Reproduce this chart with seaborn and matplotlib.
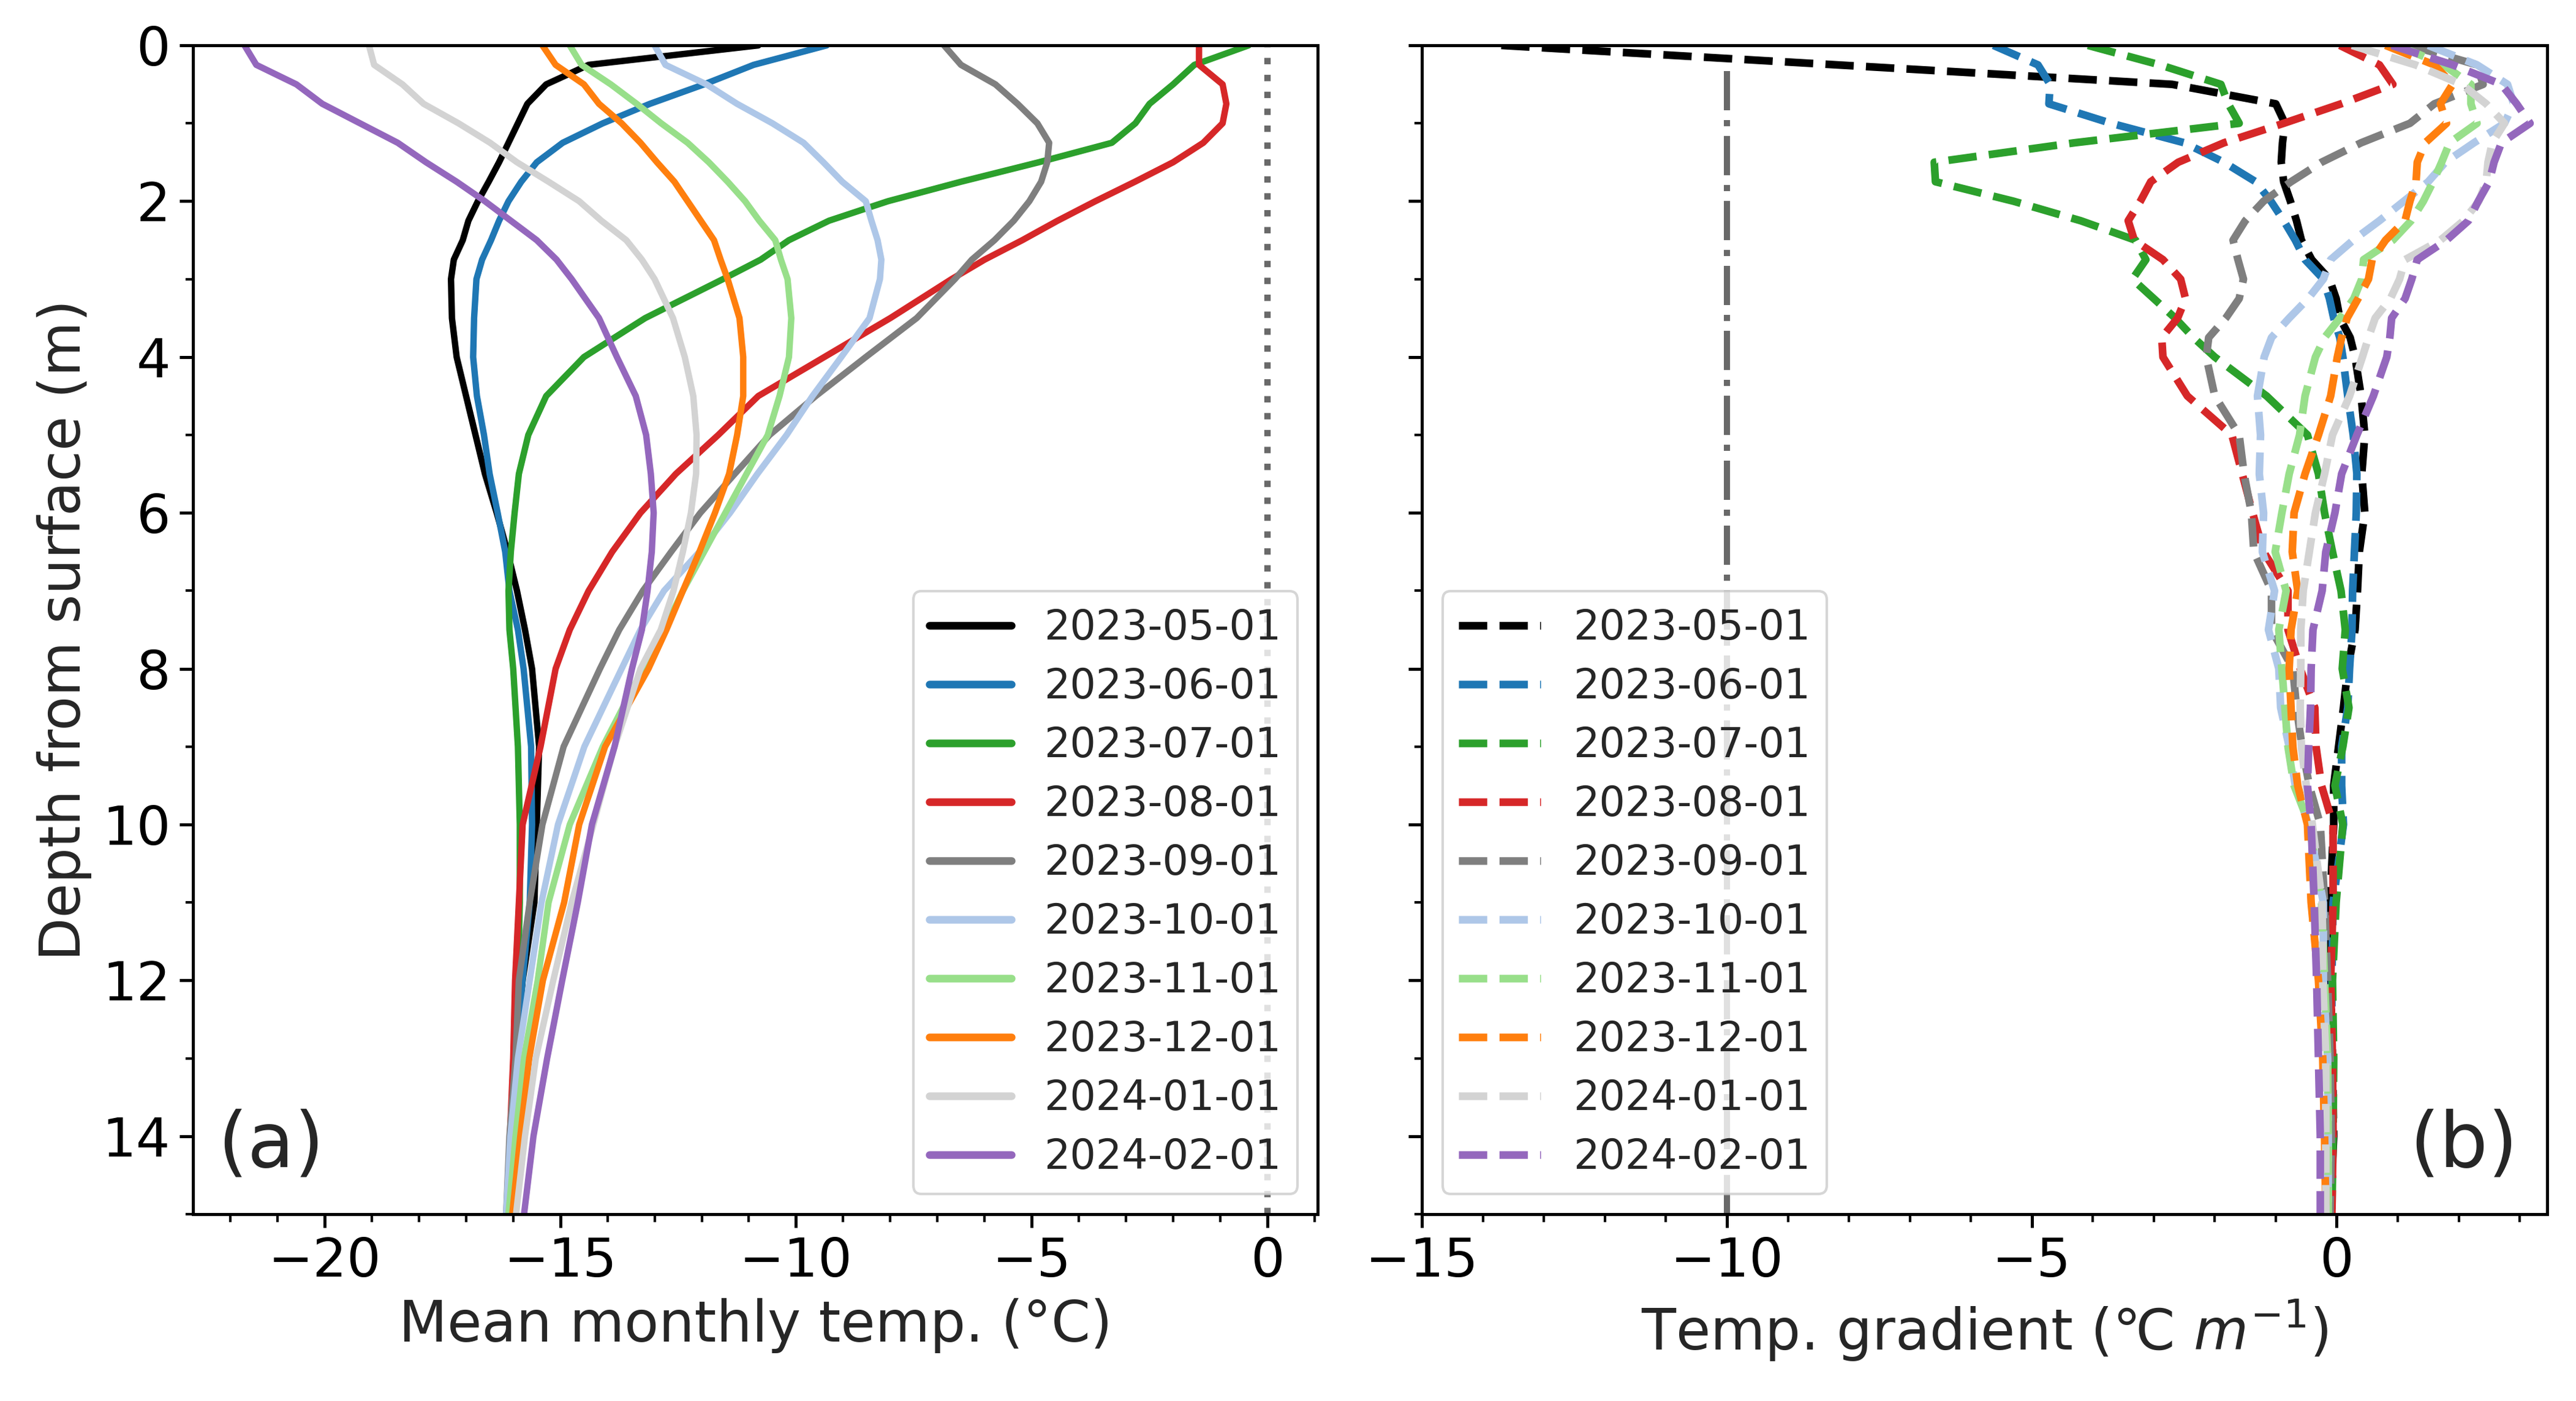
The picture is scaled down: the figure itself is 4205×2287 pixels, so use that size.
import pandas as pd
import matplotlib
matplotlib.use("Agg")
import matplotlib.pyplot as plt
import seaborn as sns
from matplotlib.ticker import MultipleLocator


# dates (one profile per month)
dates = ["2023-05-01", "2023-06-01", "2023-07-01", "2023-08-01", "2023-09-01",
         "2023-10-01", "2023-11-01", "2023-12-01", "2024-01-01", "2024-02-01"]

colors = ["black", "#1f77b4", "#2ca02c", "#d62728", "#7f7f7f",
          "#aec7e8", "#98df8a", "#ff7f0e", "#d3d3d3", "#9467bd"]

# depth grid for panel (a)
depth_a = [0, 0.25, 0.5, 0.75, 1, 1.25, 1.5, 1.75, 2, 2.25, 2.5, 2.75, 3,
           3.5, 4, 4.5, 5, 5.5, 6, 6.5, 7, 7.5, 8,
           9, 10, 11, 12, 13, 14, 15]

# mean monthly temperature (deg C)
temp_0523 = [-10.8, -14.4, -15.3, -15.7, -15.9, -16.1, -16.3, -16.52, -16.75, -16.95, -17.07, -17.26, -17.32,
             -17.3, -17.2, -17.0, -16.8, -16.6, -16.35, -16.12, -15.92, -15.75, -15.6,
             -15.45, -15.5, -15.55, -15.8, -15.95, -16.05, -16.1]
temp_0623 = [-9.35, -10.9, -11.95, -13.1, -14.1, -14.95, -15.5, -15.83, -16.1, -16.3, -16.47, -16.66, -16.78,
             -16.83, -16.85, -16.77, -16.62, -16.5, -16.33, -16.17, -16.08, -15.9, -15.78,
             -15.62, -15.6, -15.65, -15.8, -15.95, -16.0, -16.05]
temp_0723 = [-0.4, -1.55, -2.0, -2.5, -2.8, -3.3, -4.85, -6.5, -8.05, -9.3, -10.15, -10.75, -11.55,
             -13.2, -14.5, -15.3, -15.68, -15.88, -15.97, -16.05, -16.1, -16.08, -16.0,
             -15.9, -15.86, -15.86, -15.9, -15.95, -16.0, -16.05]
temp_0823 = [-1.45, -1.45, -0.95, -0.87, -0.95, -1.36, -2.0, -2.81, -3.65, -4.45, -5.2, -6.0, -6.7,
             -8.0, -9.4, -10.8, -11.65, -12.55, -13.3, -13.9, -14.4, -14.8, -15.1,
             -15.42, -15.8, -15.88, -15.96, -16.0, -16.07, -16.1]
temp_0923 = [-6.86, -6.5, -5.77, -5.3, -4.88, -4.63, -4.67, -4.8, -5.05, -5.38, -5.79, -6.27, -6.63,
             -7.44, -8.52, -9.58, -10.56, -11.3, -12.03, -12.65, -13.25, -13.75, -14.16,
             -14.93, -15.38, -15.65, -15.88, -15.95, -16.08, -16.15]
temp_1023 = [-13.0, -12.77, -11.9, -11.25, -10.5, -9.84, -9.42, -9.02, -8.52, -8.4, -8.27, -8.19, -8.22,
             -8.44, -9.04, -9.65, -10.2, -10.82, -11.4, -12.05, -12.8, -13.3, -13.7,
             -14.49, -15.05, -15.4, -15.65, -15.9, -16.06, -16.15]
temp_1123 = [-14.8, -14.55, -13.93, -13.38, -12.86, -12.3, -11.85, -11.45, -11.08, -10.78, -10.44, -10.32, -10.18,
             -10.1, -10.15, -10.35, -10.6, -11.05, -11.5, -11.95, -12.4, -12.8, -13.25,
             -14.1, -14.8, -15.25, -15.48, -15.77, -15.95, -16.1]
temp_1223 = [-15.38, -15.1, -14.5, -14.18, -13.7, -13.3, -12.95, -12.58, -12.3, -12.02, -11.74, -11.6, -11.45,
             -11.2, -11.12, -11.12, -11.25, -11.42, -11.72, -12.05, -12.4, -12.75, -13.13,
             -14.05, -14.6, -14.92, -15.37, -15.66, -15.85, -16.02]
temp_0124 = [-19.06, -18.95, -18.35, -17.9, -17.16, -16.49, -15.92, -15.25, -14.6, -14.13, -13.6, -13.27, -13.0,
             -12.61, -12.36, -12.18, -12.11, -12.12, -12.23, -12.4, -12.6, -12.87, -13.3,
             -13.85, -14.3, -14.76, -15.15, -15.52, -15.75, -15.94]
temp_0224 = [-21.7, -21.45, -20.6, -20.05, -19.25, -18.45, -17.85, -17.2, -16.6, -16.05, -15.5, -15.08, -14.76,
             -14.18, -13.8, -13.4, -13.18, -13.08, -13.02, -13.06, -13.15, -13.27, -13.48,
             -13.85, -14.33, -14.63, -14.96, -15.28, -15.57, -15.77]

# depth grid for panel (b)
depth_b = [0, 0.25, 0.5, 0.75, 1, 1.25, 1.5, 1.75, 2, 2.25, 2.5, 2.75, 3, 3.25, 3.5, 3.75, 4,
           4.5, 5, 5.5, 6, 6.5, 7, 7.5, 8, 8.5, 9, 9.5, 10,
           11, 12, 13, 14, 15]

# temperature gradient (deg C per m)
grad_0523 = [-13.7, -8.2, -2.7, -1.0, -0.85, -0.89, -0.91, -0.87, -0.76, -0.66, -0.58, -0.41, -0.12, -0.01, 0.05, 0.22, 0.3,
             0.4, 0.46, 0.41, 0.46, 0.37, 0.34, 0.3, 0.18, 0.11, 0.03, -0.05, -0.05,
             -0.11, -0.1, -0.07, -0.05, -0.11]
grad_0623 = [-5.63, -4.9, -4.7, -4.72, -3.7, -2.5, -1.85, -1.33, -1.08, -0.87, -0.68, -0.52, -0.22, -0.12, -0.05, 0.05, 0.1,
             0.18, 0.27, 0.33, 0.32, 0.29, 0.26, 0.25, 0.21, 0.18, 0.08, 0.08, 0.11,
             -0.06, -0.08, -0.08, -0.08, -0.08]
grad_0723 = [-4.08, -2.9, -1.9, -1.78, -1.6, -4.3, -6.6, -6.58, -5.3, -4.2, -3.3, -3.13, -3.35, -3.0, -2.65, -2.35, -2.0,
             -1.15, -0.48, -0.3, -0.2, -0.07, 0.07, 0.14, 0.09, 0.2, 0.1, -0.03, 0.1,
             -0.01, -0.07, -0.05, -0.06, -0.08]
grad_0823 = [0.05, 0.7, 0.92, 0.07, -0.87, -1.85, -2.6, -3.05, -3.22, -3.42, -3.32, -2.85, -2.56, -2.48, -2.61, -2.87, -2.85,
             -2.45, -1.72, -1.55, -1.38, -1.2, -0.8, -0.8, -0.6, -0.36, -0.34, -0.25, -0.06,
             -0.06, -0.1, -0.07, -0.06, -0.08]
grad_0923 = [1.2, 2.3, 2.4, 1.6, 1.2, 0.4, -0.25, -0.75, -1.2, -1.5, -1.7, -1.62, -1.53, -1.6, -1.82, -2.1, -2.14,
             -2.0, -1.6, -1.52, -1.4, -1.36, -1.07, -1.07, -0.72, -0.66, -0.57, -0.45, -0.27,
             -0.2, -0.15, -0.11, -0.09, -0.11]
grad_1023 = [1.5, 2.3, 2.8, 2.9, 2.75, 2.25, 1.78, 1.5, 1.1, 0.7, 0.27, -0.1, -0.22, -0.47, -0.78, -1.07, -1.19,
             -1.3, -1.25, -1.27, -1.2, -1.22, -1.02, -1.12, -0.95, -0.92, -0.78, -0.68, -0.46,
             -0.22, -0.22, -0.15, -0.14, -0.14]
grad_1123 = [1.0, 1.75, 2.2, 2.2, 2.3, 1.85, 1.72, 1.58, 1.42, 1.22, 0.92, 0.44, 0.41, 0.28, 0.05, -0.2, -0.35,
             -0.52, -0.61, -0.78, -0.9, -1.01, -0.83, -0.95, -0.9, -0.85, -0.8, -0.7, -0.45,
             -0.25, -0.2, -0.15, -0.14, -0.14]
grad_1223 = [0.8, 1.6, 1.9, 1.7, 1.8, 1.45, 1.32, 1.3, 1.2, 1.12, 0.8, 0.58, 0.52, 0.35, 0.17, 0.08, 0.01,
             -0.1, -0.3, -0.52, -0.7, -0.73, -0.64, -0.75, -0.78, -0.75, -0.72, -0.64, -0.48,
             -0.42, -0.3, -0.23, -0.2, -0.18]
grad_0124 = [0.25, 1.29, 2.05, 2.45, 2.75, 2.55, 2.48, 2.45, 2.33, 2.08, 1.7, 1.12, 1.03, 0.88, 0.63, 0.52, 0.42,
             0.21, -0.07, -0.2, -0.35, -0.45, -0.55, -0.59, -0.59, -0.6, -0.58, -0.5, -0.4,
             -0.24, -0.23, -0.18, -0.18, -0.18]
grad_0224 = [0.9, 1.9, 2.7, 2.95, 3.17, 2.7, 2.58, 2.5, 2.32, 2.16, 1.8, 1.32, 1.23, 1.12, 0.9, 0.87, 0.82,
             0.6, 0.33, 0.08, -0.03, -0.18, -0.24, -0.39, -0.42, -0.43, -0.46, -0.48, -0.42,
             -0.37, -0.33, -0.3, -0.27, -0.27]

temps = [temp_0523, temp_0623, temp_0723, temp_0823, temp_0923,
         temp_1023, temp_1123, temp_1223, temp_0124, temp_0224]
grads = [grad_0523, grad_0623, grad_0723, grad_0823, grad_0923,
         grad_1023, grad_1123, grad_1223, grad_0124, grad_0224]

# long tables for seaborn
temp_df = pd.concat([pd.DataFrame({"date": d, "depth": depth_a, "temp": t})
                     for d, t in zip(dates, temps)], ignore_index=True)
grad_df = pd.concat([pd.DataFrame({"date": d, "depth": depth_b, "grad": g})
                     for d, g in zip(dates, grads)], ignore_index=True)


sns.set_style("ticks")
plt.rcParams["font.family"] = ["DejaVu Sans"]
plt.rcParams["axes.linewidth"] = 1.2
plt.rcParams["xtick.major.width"] = 1.2
plt.rcParams["ytick.major.width"] = 1.2
plt.rcParams["xtick.minor.width"] = 1.0
plt.rcParams["ytick.minor.width"] = 1.0
plt.rcParams["xtick.major.size"] = 5.2
plt.rcParams["ytick.major.size"] = 5.2
plt.rcParams["xtick.minor.size"] = 3.0
plt.rcParams["ytick.minor.size"] = 3.0
plt.rcParams["xtick.color"] = "black"
plt.rcParams["ytick.color"] = "black"
plt.rcParams["axes.edgecolor"] = "black"

fig, (ax1, ax2) = plt.subplots(1, 2, sharey=True, figsize=(4205 / 300, 2287 / 300))
fig.subplots_adjust(left=0.0748, right=0.9888, bottom=0.1334, top=0.9676, wspace=0.0926)

# (a) temperature profiles
sns.lineplot(data=temp_df, x="temp", y="depth", hue="date", hue_order=dates,
             palette=colors, orient="y", estimator=None, lw=2.5, ax=ax1)
ax1.axvline(0, color="dimgray", ls=":", lw=2.5, zorder=0)

# (b) temperature gradients
sns.lineplot(data=grad_df, x="grad", y="depth", hue="date", hue_order=dates,
             palette=colors, orient="y", estimator=None, lw=3.0, ls="--", ax=ax2)
ax2.axvline(-10, color="dimgray", ls="-.", lw=2.4, zorder=0)

ax1.set_xlim(-22.8, 1.07)
ax2.set_xlim(-15, 3.45)
ax1.set_ylim(15, 0)

for ax in (ax1, ax2):
    ax.xaxis.set_minor_locator(MultipleLocator(1))
    ax.yaxis.set_minor_locator(MultipleLocator(1))
    ax.yaxis.set_major_locator(MultipleLocator(2))
    ax.tick_params(axis="both", which="major", labelsize=21)

ax1.set_xticks([-20, -15, -10, -5, 0])
ax2.set_xticks([-15, -10, -5, 0])

ax1.set_xlabel("Mean monthly temp. (°C)", fontsize=22)
ax2.set_xlabel("Temp. gradient (℃ $m^{-1}$)", fontsize=22)
ax1.set_ylabel("Depth from surface (m)", fontsize=22)
ax2.set_ylabel("")

sns.move_legend(ax1, "lower right", title=None,
                fontsize=16, handlelength=2.0, labelspacing=0.45)
sns.move_legend(ax2, "lower left", title=None,
                fontsize=16, handlelength=2.0, labelspacing=0.45)
for ax in (ax1, ax2):
    for h in ax.get_legend().legend_handles:
        h.set_linewidth(3.0)

ax1.text(0.022, 0.027, "(a)", transform=ax1.transAxes, fontsize=30, ha="left", va="bottom")
ax2.text(0.974, 0.027, "(b)", transform=ax2.transAxes, fontsize=30, ha="right", va="bottom")

fig.savefig("out.png", dpi=300)
